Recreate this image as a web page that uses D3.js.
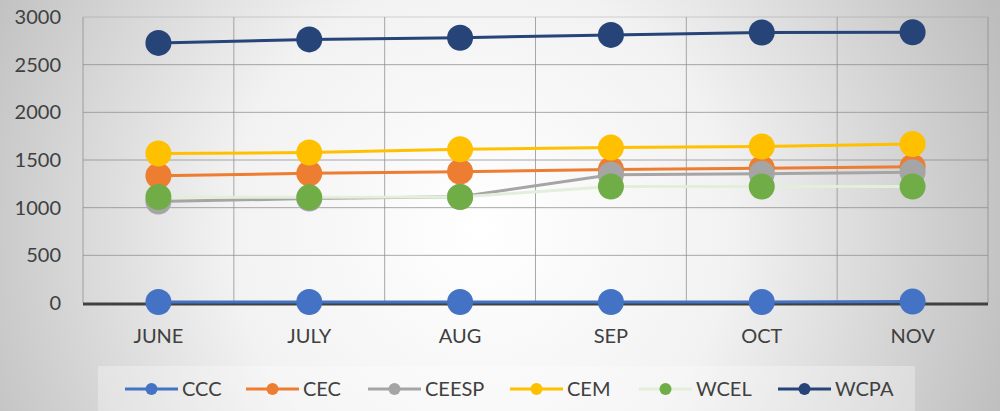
<!DOCTYPE html>
<html>
<head>
<meta charset="utf-8">
<script src="https://cdn.jsdelivr.net/npm/d3@7"></script>
<style>
  body { margin: 0; }
  svg { display: block; }
  svg text { font-family: Lato, "Open Sans", sans-serif; }
</style>
</head>
<body>
<div class="chart"></div>
<script>
const svgWidth = 1000;
const svgHeight = 411;

const margin = { top: 17, right: 12, bottom: 108, left: 83 };
const width = svgWidth - margin.left - margin.right;
const height = svgHeight - margin.top - margin.bottom;

// data
const months = ["JUNE", "JULY", "AUG", "SEP", "OCT", "NOV"];
const yTicks = [0, 500, 1000, 1500, 2000, 2500, 3000];
const seriesNames = ["CCC", "CEC", "CEESP", "CEM", "WCEL", "WCPA"];
const ccc = [10, 10, 10, 10, 10, 15];
const cec = [1335, 1360, 1378, 1400, 1413, 1430];
const ceesp = [1065, 1095, 1115, 1345, 1355, 1372];
const cem = [1568, 1578, 1612, 1630, 1642, 1668];
const wcel = [1112, 1108, 1112, 1222, 1222, 1222];
const wcpa = [2728, 2765, 2782, 2812, 2838, 2840];

const lineColors = ["#4472c4", "#ed7d31", "#a5a5a5", "#ffc000", "#e2efda", "#264478"];
const markerColors = ["#4472c4", "#ed7d31", "#a5a5a5", "#ffc000", "#70ad47", "#264478"];

const seriesValues = [ccc, cec, ceesp, cem, wcel, wcpa];
const series = seriesNames.map((name, i) => ({
    name: name,
    line: lineColors[i],
    marker: markerColors[i],
    values: seriesValues[i].map((v, j) => ({ month: months[j], value: v }))
}));

const svg = d3.select(".chart")
    .append("svg")
    .attr("width", svgWidth)
    .attr("height", svgHeight);

const defs = svg.append("defs");
const grad = defs.append("radialGradient")
    .attr("id", "bg")
    .attr("gradientUnits", "userSpaceOnUse")
    .attr("cx", 480).attr("cy", 230).attr("r", 560);
grad.append("stop").attr("offset", "0%").attr("stop-color", "#ffffff");
grad.append("stop").attr("offset", "45%").attr("stop-color", "#f2f2f2");
grad.append("stop").attr("offset", "100%").attr("stop-color", "#bdbdbd");

svg.append("rect")
    .attr("width", svgWidth)
    .attr("height", svgHeight)
    .attr("fill", "url(#bg)");

const chartGroup = svg.append("g")
    .attr("transform", `translate(${margin.left}, ${margin.top})`);

const xScale = d3.scaleBand()
    .domain(months)
    .range([0, width]);

const yScale = d3.scaleLinear()
    .domain([0, 3000])
    .range([height, 0]);

// gridlines
chartGroup.append("g")
    .selectAll("line.h")
    .data(yTicks.slice(1))
    .enter()
    .append("line")
    .attr("x1", 0)
    .attr("x2", width)
    .attr("y1", d => yScale(d))
    .attr("y2", d => yScale(d))
    .attr("stroke", "#8c8c8c")
    .attr("stroke-opacity", d => d === 3000 ? 0.35 : 0.75)
    .attr("stroke-width", 1);

const bounds = months.map(m => xScale(m)).concat([width]);
chartGroup.append("g")
    .selectAll("line.v")
    .data(bounds)
    .enter()
    .append("line")
    .attr("x1", d => d)
    .attr("x2", d => d)
    .attr("y1", 0)
    .attr("y2", height)
    .attr("stroke", "#8c8c8c")
    .attr("stroke-opacity", 0.75)
    .attr("stroke-width", 1);

// baseline
chartGroup.append("line")
    .attr("x1", 0)
    .attr("x2", width)
    .attr("y1", height + 1)
    .attr("y2", height + 1)
    .attr("stroke", "#404040")
    .attr("stroke-width", 3);

// y axis labels
const leftAxis = d3.axisLeft(yScale)
    .tickValues(yTicks)
    .tickFormat(d3.format("d"))
    .tickSize(0)
    .tickPadding(22);
const yAxis = chartGroup.append("g").call(leftAxis);
yAxis.select(".domain").remove();
yAxis.attr("font-family", null);
yAxis.selectAll("text")
    .style("font-size", "20px")
    .attr("fill", "#404040");

// x axis labels
const bottomAxis = d3.axisBottom(xScale).tickSize(0).tickPadding(26);
const xAxis = chartGroup.append("g")
    .attr("transform", `translate(0, ${height})`)
    .call(bottomAxis);
xAxis.select(".domain").remove();
xAxis.attr("font-family", null);
xAxis.selectAll("text")
    .style("font-size", "20px")
    .attr("fill", "#404040");

const lineGen = d3.line()
    .x(d => xScale(d.month) + xScale.bandwidth() / 2)
    .y(d => yScale(d.value));

series.forEach(s => {
    const g = chartGroup.append("g");
    g.append("path")
        .datum(s.values)
        .attr("d", lineGen)
        .attr("fill", "none")
        .attr("stroke", s.line)
        .attr("stroke-width", 3);
    g.selectAll("circle")
        .data(s.values)
        .enter()
        .append("circle")
        .attr("cx", d => xScale(d.month) + xScale.bandwidth() / 2)
        .attr("cy", d => yScale(d.value))
        .attr("r", 13)
        .attr("fill", s.marker);
});

// legend
const legendBox = svg.append("g");
legendBox.append("rect")
    .attr("x", 98)
    .attr("y", 366)
    .attr("width", 817)
    .attr("height", 50)
    .attr("fill", "#ffffff")
    .attr("fill-opacity", 0.3);

const legendX = [125, 246, 368, 510, 639, 778];
const legend = legendBox.selectAll("g.item")
    .data(series)
    .enter()
    .append("g")
    .attr("transform", (d, i) => `translate(${legendX[i]}, 389)`);

legend.append("line")
    .attr("x1", 0)
    .attr("x2", 53)
    .attr("stroke", d => d.line)
    .attr("stroke-width", 3);
legend.append("circle")
    .attr("cx", 26.5)
    .attr("r", 6)
    .attr("fill", d => d.marker);
legend.append("text")
    .attr("x", 57)
    .attr("dy", "0.35em")
    .style("font-size", "20px")
    .attr("fill", "#404040")
    .text(d => d.name);
</script>
</body>
</html>
